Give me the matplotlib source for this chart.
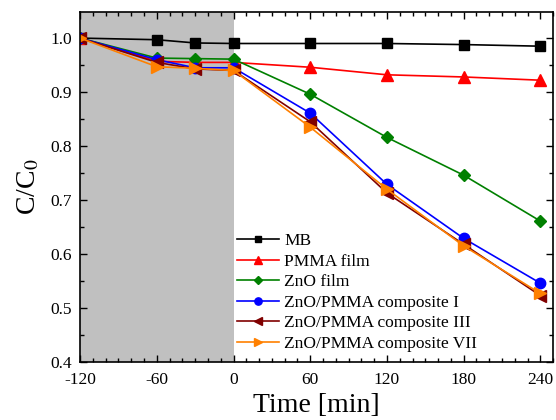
import matplotlib
matplotlib.use("Agg")
import matplotlib.pyplot as plt
from matplotlib.ticker import MultipleLocator, FormatStrFormatter

plt.rcParams['font.family'] = ['Liberation Serif', 'DejaVu Serif']
plt.rcParams['mathtext.fontset'] = 'stix'
plt.rcParams['axes.unicode_minus'] = False

# data
time = [-120, -60, -30, 0, 60, 120, 180, 240]
mb = [1.0, 0.997, 0.991, 0.990, 0.990, 0.990, 0.988, 0.985]
pmma = [1.0, 0.957, 0.955, 0.955, 0.946, 0.932, 0.928, 0.922]
zno = [1.0, 0.963, 0.962, 0.961, 0.896, 0.816, 0.746, 0.661]
comp1 = [1.0, 0.960, 0.945, 0.945, 0.861, 0.729, 0.629, 0.546]
comp3 = [1.0, 0.955, 0.943, 0.940, 0.845, 0.713, 0.618, 0.523]
comp7 = [1.0, 0.947, 0.944, 0.940, 0.835, 0.720, 0.615, 0.527]

labels = ["MB", "PMMA film", "ZnO film", "ZnO/PMMA composite I",
          "ZnO/PMMA composite III", "ZnO/PMMA composite VII"]
series = [mb, pmma, zno, comp1, comp3, comp7]
colors = ["#000000", "#ff0000", "#008000", "#0000ff", "#800000", "#ff8000"]
markers = ["s", "^", "D", "o", "<", ">"]
msizes = [7, 8, 6.5, 7.5, 8, 8]

fig = plt.figure(figsize=(5.56, 4.2), dpi=100)
ax = fig.add_axes([0.144, 0.138, 0.851, 0.833])

# dark period
ax.axvspan(-120, 0, color="#c0c0c0", lw=0, zorder=0)

for y, lab, c, m, ms in zip(series, labels, colors, markers, msizes):
    ax.plot(time, y, color=c, marker=m, markersize=ms, lw=1.2, label=lab)

ax.set_xlim(-120, 250)
ax.set_ylim(0.4, 1.048)
ax.set_xticks([-120, -60, 0, 60, 120, 180, 240])
ax.xaxis.set_minor_locator(MultipleLocator(10))
ax.yaxis.set_major_locator(MultipleLocator(0.1))
ax.yaxis.set_minor_locator(MultipleLocator(0.05))
ax.yaxis.set_major_formatter(FormatStrFormatter('%.1f'))
ax.tick_params(which="both", direction="in", top=True, right=True, labelsize=12.5)
ax.tick_params(which="major", length=5, width=1)
ax.tick_params(which="minor", length=3, width=1)
ax.tick_params(axis="x", pad=7)
ax.tick_params(axis="y", pad=6)
for s in ax.spines.values():
    s.set_linewidth(1.2)

ax.set_xlabel("Time [min]", fontsize=20, labelpad=4)
ax.set_ylabel("C/C$_0$", fontsize=20, labelpad=6)

leg = ax.legend(loc="lower left", bbox_to_anchor=(0.31, 0.0), frameon=False,
                fontsize=12.5, handlelength=2.4, handletextpad=0.3,
                labelspacing=0.25, borderaxespad=0.2, markerscale=0.7)

fig.savefig("out.png", dpi=100)
